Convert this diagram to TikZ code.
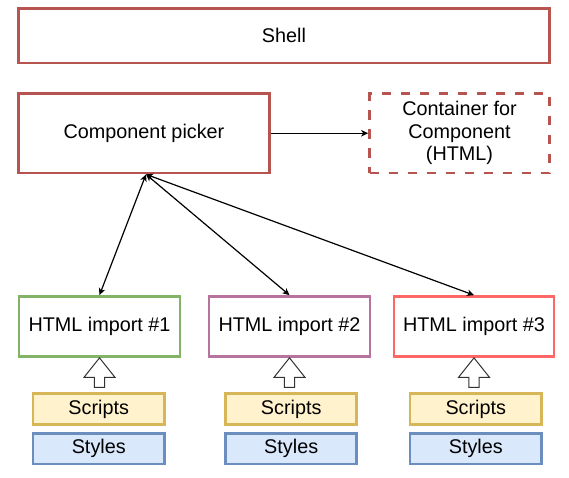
\documentclass[tikz,border=0pt]{standalone}
\usepackage{fontspec}
\setmainfont{Liberation Sans}
\usetikzlibrary{arrows.meta, calc}
\definecolor{pickred}{HTML}{B85450}
\definecolor{impgreen}{HTML}{82B366}
\definecolor{imppurple}{HTML}{B5739D}
\definecolor{impred}{HTML}{FF6666}
\definecolor{scrfill}{HTML}{FFF2CC}
\definecolor{scrline}{HTML}{D6B656}
\definecolor{styfill}{HTML}{DAE8FC}
\definecolor{styline}{HTML}{6C8EBF}
\tikzset{
  link/.style={
    line width=1.2pt,
    -{Stealth[length=7pt, width=6.5pt, inset=2pt]}
  },
  duplex/.style={
    line width=1.2pt,
    {Stealth[length=7pt, width=6.5pt, inset=2pt]}-{Stealth[length=7pt, width=6.5pt, inset=2pt]}
  },
  hollow/.style={
    draw=black!80,
    fill=white,
    line width=1pt,
    line join=miter
  }
}

\begin{document}
\begin{tikzpicture}[x=1pt, y=-1pt, every node/.style={draw, rectangle, fill=white, inner sep=0pt, line width=2.7pt, font=\fontsize{19.8}{22.5}\selectfont, align=center}]
\useasboundingbox (0,0) rectangle (569,477);
\newcommand\YShell{35.75}
\newcommand\YPick{133.25}
\newcommand\YImp{326.5}
\newcommand\YScr{409}
\newcommand\YSty{448.75}
\node[draw=pickred, minimum width=531pt, minimum height=54.5pt] (Shell) at (284,\YShell) {Shell};
\node[draw=pickred, minimum width=251pt, minimum height=79.5pt] (Pick) at (144,\YPick) {Component picker};
\node[draw=pickred, dash pattern=on 9.5pt off 9.5pt, minimum width=180pt, minimum height=79.5pt] (Cont) at (459.5,\YPick) {Container for\\Component\\(HTML)};
\node[draw=impgreen, minimum width=161pt, minimum height=60pt] (Imp1) at (99.5,\YImp) {HTML import \#1};
\node[draw=imppurple, minimum width=161pt, minimum height=60pt] (Imp2) at (289.5,\YImp) {HTML import \#2};
\node[draw=impred, minimum width=160pt, minimum height=60pt] (Imp3) at (474,\YImp) {HTML import \#3};
\node[draw=scrline, fill=scrfill, minimum width=131.5pt, minimum height=31pt] (Scr1) at (98.75,\YScr) {Scripts};
\node[draw=scrline, fill=scrfill, minimum width=131pt, minimum height=31pt] (Scr2) at (291.2,\YScr) {Scripts};
\node[draw=scrline, fill=scrfill, minimum width=131.5pt, minimum height=31pt] (Scr3) at (475.75,\YScr) {Scripts};
\node[draw=styline, fill=styfill, minimum width=131.5pt, minimum height=30.5pt] (Sty1) at (98.75,\YSty) {Styles};
\node[draw=styline, fill=styfill, minimum width=131pt, minimum height=30.5pt] (Sty2) at (291.2,\YSty) {Styles};
\node[draw=styline, fill=styfill, minimum width=131.5pt, minimum height=30.5pt] (Sty3) at (475.75,\YSty) {Styles};

\coordinate (Hub) at ($(Pick.south)+(2,0)$);

\draw (Pick) edge[link] (Cont);
\draw (Hub) edge[duplex] (Imp1.north)
            edge[duplex] (Imp2.north)
            edge[duplex] (Imp3.north);

% scripts lifted into each import
\newcommand\LiftArrow[1]{%
  \draw[hollow] ($(Imp#1.south)+(-5.2,29.5)$) -- ++(0,-10) -- ++(-10.3,0)
    -- (Imp#1.south) -- ++(15.5,19.5) -- ++(-10.3,0) -- ++(0,10) -- cycle;}
\LiftArrow{1}
\LiftArrow{2}
\LiftArrow{3}
\end{tikzpicture}
\end{document}
